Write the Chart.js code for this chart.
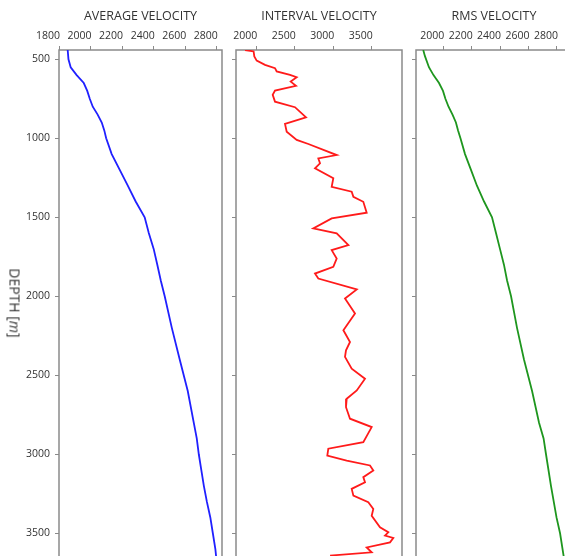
<!DOCTYPE html>
<html>
<head>
<meta charset="utf-8">
<script src="https://cdn.jsdelivr.net/npm/chart.js@4"></script>
<style>
  html, body { margin: 0; padding: 0; background: #fff; }
  #wrap { position: relative; width: 565px; height: 556px; overflow: hidden; background: #fff; }
  canvas { position: absolute; top: 0; }
  #ylabel {
    position: absolute; left: 15px; top: 303px;
    transform: translate(-50%, -50%) rotate(90deg);
    font: 14px 'Open Sans', sans-serif; color: #333; white-space: nowrap;
  }
</style>
</head>
<body>
<div id="wrap">
  <canvas id="avg" style="left:0px" width="224" height="580"></canvas>
  <canvas id="int" style="left:226px" width="178" height="580"></canvas>
  <canvas id="rms" style="left:406px" width="168" height="580"></canvas>
  <div id="ylabel">DEPTH [<i>m</i>]</div>
</div>
<script>
// depth (m) and velocity (m/s)
const avgDepth = [441, 500, 550, 600, 650, 700, 750, 800, 850, 900, 950, 1000, 1100, 1200, 1300, 1400, 1500,
  1600, 1700, 1800, 1900, 2000, 2200, 2400, 2600, 2800, 2900, 3000, 3100, 3200, 3300, 3400, 3500, 3600, 3660];
const avgVel = [1855, 1860, 1874, 1912, 1957, 1979, 1995, 2014, 2045, 2071, 2087, 2099, 2134, 2185, 2236, 2286, 2343,
  2369, 2400, 2423, 2445, 2470, 2515, 2565, 2616, 2654, 2673, 2686, 2702, 2718, 2737, 2759, 2775, 2791, 2797];

const intDepth = [441, 450, 482, 508, 535, 556, 577, 598, 613, 641, 668, 698, 725, 768, 803, 867, 909, 958,
  1010, 1036, 1106, 1127, 1158, 1190, 1253, 1307, 1338, 1370, 1402, 1471, 1507, 1570, 1602, 1676, 1708, 1761,
  1814, 1856, 1888, 1957, 2014, 2109, 2215, 2289, 2342, 2384, 2458, 2522, 2596, 2649, 2702, 2775, 2828, 2923,
  2965, 3008, 3040, 3071, 3103, 3145, 3177, 3219, 3262, 3304, 3346, 3389, 3463, 3494, 3515, 3530, 3558, 3590,
  3621, 3642];
const intVel = [1853, 1965, 1974, 2005, 2113, 2243, 2265, 2438, 2525, 2447, 2516, 2243, 2213, 2243, 2503, 2646, 2373, 2395,
  2525, 2677, 3045, 2806, 2828, 2763, 3001, 2980, 3240, 3262, 3391, 3435, 2980, 2741, 3045, 3197, 2980, 3045,
  3001, 2763, 2806, 3306, 3153, 3283, 3132, 3218, 3166, 3153, 3240, 3413, 3306, 3175, 3166, 3218, 3500, 3391,
  2936, 2923, 3175, 3478, 3521, 3391, 3413, 3240, 3262, 3456, 3521, 3500, 3608, 3716, 3673, 3781, 3738, 3435,
  3500, 2959];

const rmsDepth = [441, 480, 550, 600, 650, 700, 750, 800, 850, 900, 950, 1000, 1100, 1200, 1300, 1400, 1500,
  1600, 1700, 1800, 1900, 2000, 2200, 2400, 2600, 2800, 2900, 3000, 3200, 3400, 3500, 3660];
const rmsVel = [1859, 1871, 1899, 1931, 1970, 1998, 2015, 2037, 2065, 2089, 2104, 2121, 2153, 2195, 2237, 2287, 2343,
  2371, 2399, 2427, 2449, 2477, 2519, 2568, 2625, 2674, 2706, 2723, 2758, 2797, 2822, 2850];

// tick labels
const avgTicks = [1800, 2000, 2200, 2400, 2600, 2800];
const intTicks = [2000, 2500, 3000, 3500];
const rmsTicks = [2000, 2200, 2400, 2600, 2800];
const depthTicks = [500, 1000, 1500, 2000, 2500, 3000, 3500];
const depthRange = [441, 3796];

const frame = {
  id: 'frame',
  beforeDatasetsDraw(chart) {
    const { ctx, chartArea: a } = chart;
    ctx.save();
    ctx.strokeStyle = '#8a8a8a';
    ctx.lineWidth = 1.5;
    ctx.strokeRect(a.left, a.top, a.right - a.left, a.bottom - a.top);
    ctx.restore();
  }
};

const tickFont = { family: "'Open Sans'", size: 10.5 };
const setTicks = (values) => (s) => { s.ticks = values.map((v) => ({ value: v })); };

function makePanel(id, title, depth, vel, color, xMin, xMax, xTicks, yWidth, yLabels) {
  const points = depth.map((d, i) => ({ x: vel[i], y: d }));
  return new Chart(document.getElementById(id), {
    type: 'scatter',
    data: {
      datasets: [{
        data: points,
        showLine: true,
        borderColor: color,
        borderWidth: 1.8,
        pointRadius: 0,
        tension: 0,
      }],
    },
    plugins: [frame],
    options: {
      responsive: false,
      animation: false,
      layout: { padding: { left: 0, right: 2, top: 0, bottom: 0 } },
      plugins: {
        legend: { display: false },
        tooltip: { enabled: false },
        title: {
          display: true,
          fullSize: false,
          text: title,
          color: '#333',
          font: { family: "'Open Sans'", size: 12.5, weight: 'normal' },
          padding: { top: 8.5, bottom: 0 },
        },
      },
      scales: {
        x: {
          type: 'linear',
          position: 'top',
          min: xMin,
          max: xMax,
          afterBuildTicks: setTicks(xTicks),
          afterFit: (s) => { s.height = 26.5; s.paddingLeft = 0; s.paddingRight = 0; },
          border: { display: false },
          grid: { drawOnChartArea: false, drawTicks: true, tickLength: 4, color: '#8a8a8a' },
          ticks: {
            labelOffset: -11,
            padding: 4,
            maxRotation: 0,
            autoSkip: false,
            color: '#333',
            font: tickFont,
            callback: (v) => String(v),
          },
        },
        y: {
          type: 'linear',
          reverse: true,
          min: depthRange[0],
          max: depthRange[1],
          afterBuildTicks: setTicks(depthTicks),
          afterFit: (s) => { s.width = yWidth; s.paddingTop = 0; s.paddingBottom = 0; },
          border: { display: false },
          grid: { drawOnChartArea: false, drawTicks: true, tickLength: 4, color: '#8a8a8a' },
          ticks: {
            display: yLabels,
            padding: 5,
            autoSkip: false,
            color: '#333',
            font: tickFont,
            callback: (v) => String(v),
          },
        },
      },
    },
  });
}

makePanel('avg', 'AVERAGE VELOCITY', avgDepth, avgVel, '#2020ff', 1800, 2833, avgTicks, 59, true);
makePanel('int', 'INTERVAL VELOCITY', intDepth, intVel, '#ff1a1a', 1736, 3894, intTicks, 10, false);
makePanel('rms', 'RMS VELOCITY', rmsDepth, rmsVel, '#1e961e', 1808, 2906, rmsTicks, 10, false);
</script>
</body>
</html>
